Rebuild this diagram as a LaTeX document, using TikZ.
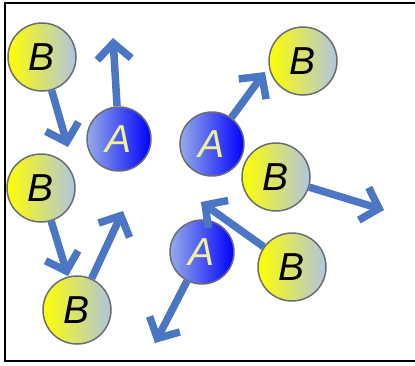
\documentclass[tikz,border=0pt]{standalone}
\usepackage{fontspec}
\setmainfont{Liberation Sans}
\usetikzlibrary{positioning,arrows.meta,shapes}
\definecolor{arrowblue}{RGB}{74,118,196}
\definecolor{paleblue}{RGB}{176,196,226}
\definecolor{ringgray}{RGB}{105,110,115}
\definecolor{letteryellow}{RGB}{236,242,150}
\definecolor{lightA}{RGB}{150,172,232}

\begin{document}
\begin{tikzpicture}[x=1pt, y=-1pt,
    ballB/.style={circle, draw=ringgray, line width=1.5pt, minimum size=68pt, inner sep=0pt,
        left color=yellow, right color=paleblue, font=\fontsize{39}{39}\selectfont\itshape},
    ballA/.style={circle, draw=ringgray, line width=1.5pt, minimum size=64pt, inner sep=0pt,
        left color=lightA, right color=blue, text=letteryellow, font=\fontsize{39}{39}\selectfont\itshape},
    move/.style={-{Straight Barb[length=16pt,width=34pt]}, line width=7.5pt, arrowblue}]
    \useasboundingbox (0,0) rectangle (415,365);

    % Frame
    \draw[line width=2pt] (415,3) -- (5,3) -- (5,361) -- (415,361);

    % Particles
    \node[ballB] (b1) at (42,57) {B};
    \node[ballA] (a1) at (119,139) {A};
    \node[ballA] (a2) at (212,144) {A};
    \node[ballB] (b2) at (303,61) {B};
    \node[ballB] (b3) at (41,188) {B};
    \node[ballB] (b4) at (276,177) {B};
    \node[ballA] (a3) at (202,252) {A};
    \node[ballB] (b5) at (292,267) {B};
    \node[ballB] (b6) at (77,310) {B};

    % Arrow tips
    \coordinate (tb1) at (68,147);
    \coordinate (ta1) at (113,38);
    \coordinate (ta2) at (265,72);
    \coordinate (tb4) at (384,210);
    \coordinate (tb5) at (201,202);
    \coordinate (ta3) at (155,343);
    \coordinate (tb3) at (68,276);
    \coordinate (tb6) at (123,211);

    % Moves
    \draw[move] (b1) -- (tb1);
    \draw[move] (a1) -- (ta1);
    \draw[move] (a2) -- (ta2);
    \draw[move] (b4) -- (tb4);
    \draw[move] (b5) -- (tb5);
    \draw[move] (a3) -- (ta3);
    \draw[move] (b3) -- (tb3);
    \draw[move] (b6) -- (tb6);
\end{tikzpicture}
\end{document}
